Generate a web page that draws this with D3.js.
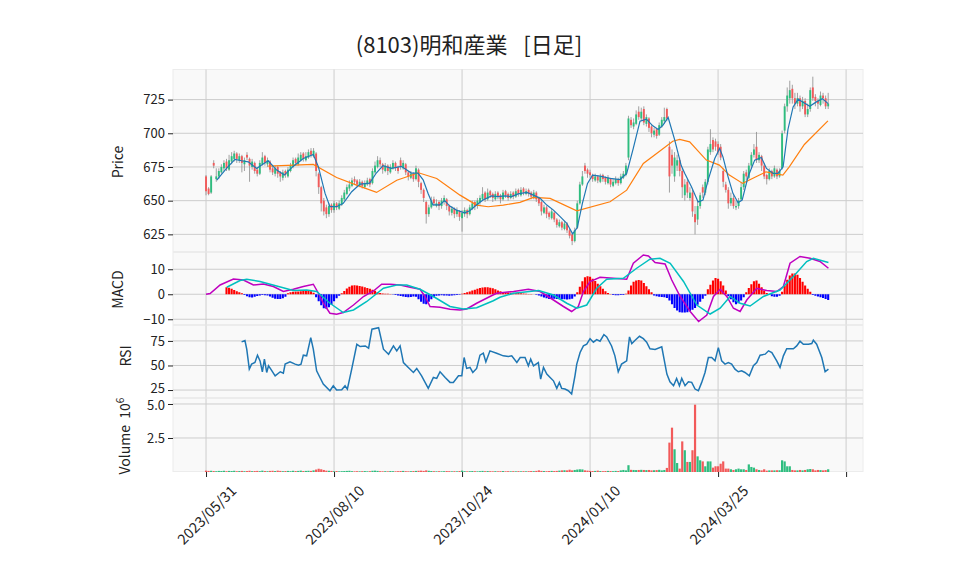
<!DOCTYPE html>
<html><head><meta charset="utf-8">
<script src="https://cdn.jsdelivr.net/npm/d3@7"></script>
<style>
body{margin:0;background:#fff;}
svg text{font-family:"Noto Sans CJK JP","DejaVu Sans",sans-serif;fill:#222;}
</style>
</head><body>
<svg id="c" width="958" height="575"></svg>
<script>
// ---------------- DATA ----------------
const title = "(8103)明和産業\u2002 [日足]";
const tickIndex = [0, 50, 100, 150, 200, 250];
const tickLabels = ["2023/05/31", "2023/08/10", "2023/10/24", "2024/01/10", "2024/03/25", ""];
const priceTicks = [625, 650, 675, 700, 725];
const macdTicks = [-10, 0, 10];
const rsiTicks = [25, 50, 75];
const volTicks = [2.5, 5.0];

const opens = [
668,659,656,678,666,668,671,674,679,673,
679,681,685,680,683,677,684,681,675,678,
673,670,677,683,677,679,674,670,675,671,
667,672,668,672,675,681,677,680,685,680,
682,687,683,685,670,660,650,645,640,647,
643,648,644,647,651,655,659,661,666,665,
661,664,660,662,666,663,671,675,680,677,
672,676,671,674,678,675,680,674,677,671,
667,670,666,673,663,658,649,640,645,651,
646,649,646,649,651,646,641,644,640,642,
637,640,643,640,644,649,646,649,651,656,
651,657,655,651,656,654,651,657,655,652,
656,653,658,654,659,655,658,656,652,656,
652,649,641,645,641,637,641,636,631,634,
629,633,628,625,620,630,648,662,676,673,
671,669,665,668,664,669,667,663,666,661,
663,666,663,667,669,682,710,705,707,716,
711,718,707,711,705,699,703,699,705,709,
718,690,684,668,676,680,672,654,664,652,
656,640,636,646,660,656,664,686,695,694,
692,690,672,662,658,648,652,645,646,651,
660,671,667,676,684,690,680,683,676,669,
666,672,668,673,668,674,702,720,726,733,
726,722,726,720,724,714,718,734,727,724,
721,728,726,720];
const highs = [
669,660,669,680,674,674,677,680,681,684,
686,687,686,685,684,682,686,682,681,679,
675,680,686,684,682,680,676,676,676,672,
673,673,675,678,682,682,685,686,686,686,
688,689,689,686,671,661,652,647,648,648,
650,649,650,654,658,662,665,667,668,666,
666,665,665,667,667,674,679,683,682,678,
678,677,677,680,679,676,682,680,678,672,
672,671,676,674,664,659,650,647,653,653,
651,650,652,654,652,647,646,645,645,643,
643,645,644,647,650,650,652,654,660,657,
659,658,656,657,657,655,658,658,656,657,
657,659,659,660,660,659,659,657,658,657,
653,650,647,646,642,644,642,637,636,635,
635,634,629,626,630,650,664,672,678,674,
673,670,670,669,670,670,668,669,667,666,
668,667,670,672,678,713,712,711,717,720,
719,720,714,712,706,704,704,708,712,719,
719,694,688,686,684,682,674,666,666,660,
658,646,650,656,662,666,690,703,697,696,
694,692,674,664,660,656,654,650,652,664,
672,673,678,686,692,701,686,684,678,670,
674,673,676,674,674,702,722,734,739,736,
730,730,728,727,726,722,734,742,729,726,
731,730,728,730];
const lows = [
654,654,655,674,664,666,670,672,672,672,
677,679,678,678,671,672,680,664,673,670,
668,669,676,676,675,671,669,668,667,664,
665,667,667,671,674,676,676,679,679,679,
681,682,682,668,655,642,639,637,638,641,
641,643,643,646,650,654,657,660,662,660,
660,659,659,661,660,662,670,674,675,670,
671,669,670,673,672,670,673,673,669,665,
666,664,665,660,655,649,633,638,644,646,
645,643,644,647,643,639,639,637,638,635,
627,638,637,639,643,643,644,647,650,649,
650,652,649,650,651,648,650,652,650,651,
651,652,653,653,654,654,653,651,651,649,
646,639,640,637,636,636,634,630,630,628,
628,626,622,617,619,629,647,661,670,667,
667,664,664,663,663,664,662,662,660,660,
662,661,662,666,668,680,704,703,706,710,
709,706,705,701,697,697,696,698,704,707,
709,656,670,664,672,668,652,650,652,650,
638,625,632,644,652,654,662,684,686,687,
684,680,660,656,644,646,644,643,644,650,
658,665,666,674,682,678,678,672,666,662,
665,666,667,666,667,673,700,716,722,722,
718,720,716,718,712,712,716,724,720,718,
720,722,718,718];
const closes = [
657,655,668,676,668,672,675,678,674,680,
683,685,681,683,678,680,682,676,679,672,
670,678,682,678,680,673,671,674,670,668,
671,669,673,676,680,678,682,684,681,683,
686,684,687,672,660,648,642,640,646,643,
648,645,648,652,656,660,662,665,664,662,
664,661,663,665,662,672,676,680,677,673,
676,672,675,678,674,672,675,678,671,668,
670,666,674,664,658,652,640,645,650,648,
648,646,650,652,646,642,644,640,643,638,
641,643,640,645,648,646,650,652,655,651,
656,654,652,655,653,651,656,654,652,655,
653,657,655,658,656,657,655,653,656,651,
648,642,645,640,638,642,636,632,634,630,
633,628,624,620,628,648,662,668,672,670,
669,666,668,665,668,666,664,667,662,664,
666,663,668,670,676,711,706,708,714,712,
716,708,712,704,700,702,698,706,710,712,
711,668,676,682,680,672,660,662,656,656,
642,634,646,654,656,664,688,692,688,690,
686,682,664,658,648,652,646,646,650,660,
670,668,676,684,688,680,684,676,668,666,
672,668,674,668,672,700,720,728,732,726,
722,726,720,724,714,718,732,726,724,722,
728,726,720,722];
// volume, millions of shares
const volumes = [
0.10,0.08,0.09,0.07,0.06,0.08,0.07,0.09,0.06,0.08,
0.07,0.09,0.06,0.07,0.08,0.06,0.07,0.09,0.06,0.07,
0.08,0.06,0.10,0.07,0.06,0.08,0.09,0.07,0.10,0.08,
0.06,0.07,0.08,0.06,0.09,0.07,0.08,0.10,0.07,0.08,
0.09,0.08,0.12,0.18,0.24,0.20,0.15,0.10,0.09,0.08,
0.06,0.07,0.05,0.06,0.07,0.08,0.09,0.06,0.05,0.06,
0.05,0.06,0.07,0.05,0.06,0.09,0.10,0.08,0.06,0.05,
0.06,0.05,0.07,0.06,0.05,0.06,0.07,0.08,0.06,0.05,
0.06,0.07,0.08,0.09,0.10,0.08,0.12,0.09,0.07,0.06,
0.05,0.06,0.05,0.06,0.07,0.06,0.05,0.06,0.05,0.07,
0.10,0.06,0.05,0.06,0.07,0.06,0.05,0.06,0.08,0.06,
0.07,0.06,0.05,0.06,0.05,0.06,0.07,0.05,0.06,0.05,
0.06,0.05,0.06,0.05,0.06,0.05,0.06,0.07,0.06,0.08,
0.12,0.08,0.07,0.06,0.07,0.08,0.07,0.08,0.10,0.12,
0.13,0.12,0.17,0.12,0.15,0.18,0.20,0.19,0.12,0.10,
0.08,0.07,0.08,0.10,0.07,0.06,0.07,0.08,0.07,0.06,
0.08,0.07,0.12,0.15,0.12,0.50,0.16,0.15,0.14,0.15,
0.16,0.15,0.14,0.15,0.12,0.13,0.14,0.16,0.12,0.15,
0.30,2.16,3.26,1.67,0.66,0.25,2.25,1.60,0.74,0.74,
1.60,4.95,1.15,0.86,0.78,0.42,0.78,0.78,0.32,0.42,
0.42,0.61,0.78,0.25,0.25,0.20,0.15,0.20,0.25,0.20,
0.20,0.15,0.56,0.37,0.32,0.20,0.15,0.12,0.20,0.10,
0.12,0.12,0.12,0.13,0.13,0.86,0.78,0.42,0.42,0.15,
0.12,0.12,0.15,0.12,0.15,0.20,0.22,0.20,0.12,0.15,
0.14,0.12,0.14,0.20];

// moving averages: [bar index, value]
const ma5 = [[4.2,665.2],[8,673.9],[11.3,680.6],[13.9,679.6],[16.5,678.8],[19.8,673.9],[21.7,676.4],[24.3,679.6],[27.6,672.7],[30.6,669],[34.1,675.6],[38,681.3],[41.9,684.3],[43.9,675.1],[46.5,655.4],[48.4,645.5],[51,645.5],[53.6,648],[56.9,656.6],[60.2,662.3],[63.9,663],[66.5,670.5],[69.1,676],[72.4,674],[76.3,675.5],[80.2,670.5],[82.8,670.5],[84.8,665.5],[86.7,655.5],[88.6,646.8],[91.3,646.8],[93.2,650],[95.2,646],[97.8,643],[101,641],[103,642.5],[105.6,646.8],[108.2,650.5],[111.5,653.5],[114.1,653],[116.7,653.5],[119.3,653],[121.9,655],[125.3,656.1],[127.9,654.1],[130.5,651.7],[133.1,646.7],[135.7,643],[138.3,638.1],[140.9,633.2],[143.2,625.4],[145,630],[147,648],[149,662.8],[151,669],[153.9,668.2],[157.8,666.5],[161.7,665.7],[164.3,670.2],[166.9,689],[169.5,709],[172,710.5],[174.5,705.5],[176.6,702.8],[178.5,706],[180.5,711.7],[183,695.5],[185.6,676],[187,670.2],[189.6,660.3],[192.2,649],[194.1,650.4],[196.1,665.2],[198.7,681.3],[200.6,688.7],[201.9,682.5],[203.9,667.7],[205.8,655.4],[207.8,648.5],[209.4,650.4],[211.7,667.7],[214.3,680.1],[216.9,682],[218.9,673.9],[221.5,670.2],[223.4,670.2],[225.4,675.1],[227.3,703],[229.3,719.6],[231.3,725.3],[233.2,723],[235.8,720],[238.4,723.3],[240.7,725.7],[243,722]];
const ma25 = [[24.3,675.6],[41.9,676.9],[51,667.2],[58.8,661.5],[66.6,656.1],[74.5,665.2],[83,670.7],[90.1,666.5],[99.2,654.1],[105.7,646.7],[110.2,645.5],[116.1,646.7],[122.6,648.7],[127.9,652.4],[134.4,651.7],[144.8,642.5],[157.8,649.2],[164.3,657.8],[170.8,677.6],[176,685],[182.3,694.1],[185,695.4],[188.9,693.6],[195.4,680.1],[200.5,676.4],[204.4,669],[209.6,662.8],[214.8,667.7],[218.7,671.4],[225.3,669],[227.8,675.1],[233.7,691.7],[242.9,709.2]];

// MACD panel
const macdLine = [[0,0],[1.6,0.3],[5.5,3.7],[10.7,6.1],[14.6,5.7],[18.5,3.7],[22.4,4.1],[26.3,3.1],[30.2,1.1],[34.1,2.0],[38,3.1],[41.9,4.0],[43.9,0.4],[45.8,-3.6],[48.4,-7.6],[51,-8.0],[53.6,-7.3],[57.6,-4.3],[61.5,-0.9],[65.4,1.3],[68.6,4.0],[71.9,4.0],[75.8,3.7],[79.7,2.8],[83.6,2.0],[85.5,-0.9],[87.5,-4.9],[91.4,-5.2],[95.3,-6.0],[99.2,-6.3],[101.8,-5.9],[105.7,-3.6],[110.9,-0.9],[113.5,0.4],[120.1,1.1],[125.9,2.0],[130.5,1.1],[135.7,-2.3],[139.6,-4.9],[142.8,-6.9],[145.4,-4.9],[147.4,1.1],[150,5.1],[153.9,6.8],[159.1,6.4],[164.3,6.0],[166.9,12.4],[170.8,15.7],[172.8,15.3],[175.4,12.7],[179.3,12.1],[181.9,5.7],[185.2,-0.9],[189.1,-6.9],[192.4,-10.9],[195.6,-8.3],[198.2,-0.9],[200.8,2.0],[203.4,-0.9],[206,-5.6],[208.6,-6.9],[211.2,-2.3],[215.1,2.4],[219,1.5],[222.9,1.1],[225.5,3.1],[228.1,12.4],[232,15.1],[235.9,14.4],[239.8,13.1],[243.1,10.4]];
const signalLine = [[8.1,2.8],[13.3,5.5],[15.9,6.0],[21.1,5.1],[27.6,3.3],[34.1,1.5],[39.3,1.7],[43.2,1.1],[48.4,-3.6],[53.6,-7.3],[57.6,-6.3],[62.8,-2.9],[69.3,2.4],[74.5,3.7],[78.4,3.7],[83.6,2.0],[88.8,-0.9],[95.3,-4.9],[100.5,-5.9],[105.7,-5.4],[112.2,-2.6],[114.8,-1.2],[120.1,0.4],[129.9,1.5],[135.7,-0.3],[140.9,-3.6],[144.8,-5.6],[148.7,-4.3],[152.6,2.4],[156.5,6.0],[163,6.4],[168.2,10.4],[173.4,14.0],[177.3,14.4],[181.3,12.4],[186.5,5.1],[191.7,-4.3],[196.9,-7.9],[200.8,-5.6],[204.7,-0.9],[208.6,-3.6],[212.5,-4.7],[217.7,-0.9],[224.2,1.7],[229.4,7.1],[234.6,13.1],[237.2,14.4],[243.1,12.7]];
const macdHist = [
null,null,null,null,null,null,null,null,2.8,2.6,
2.2,1.7,1.2,0.8,0.4,-0.3,-0.8,-1.2,-1.3,-1.0,
-0.7,-0.5,-0.3,-0.4,-0.5,-0.9,-1.4,-1.8,-1.9,-1.9,
-1.6,-1.0,0.4,0.8,1.0,1.1,1.1,1.2,1.3,1.4,
1.3,1.2,0.6,-1.2,-2.8,-4.4,-5.6,-5.8,-5.2,-4.2,
-2.8,-1.6,-0.6,0.4,1.3,2.3,3.0,3.5,3.6,3.5,
3.3,3.1,2.8,2.5,2.2,1.8,1.4,0.9,0.5,0.3,
0.2,0.2,0.1,-0.1,-0.3,-0.5,-0.7,-0.9,-1.1,-1.2,
-1.1,-0.9,-1.0,-2.0,-3.0,-3.8,-4.0,-3.0,-2.0,-1.2,
-0.6,-0.5,-0.4,-0.5,-0.5,-0.6,-0.5,-0.4,-0.3,-0.2,
0.2,0.5,0.8,1.1,1.5,1.8,2.2,2.5,2.7,2.8,
2.8,2.6,2.4,2.0,1.5,1.2,0.9,0.8,0.7,0.6,
0.6,0.5,0.5,0.4,0.3,0.2,0.1,0.1,0.0,-0.2,
-0.5,-0.9,-1.3,-1.6,-1.9,-1.9,-1.8,-1.9,-2.0,-2.0,
-2.0,-2.1,-2.0,-1.8,-0.9,0.8,3.0,5.2,6.8,7.2,
7.0,6.2,5.3,4.2,3.2,2.2,1.2,0.5,0.1,-0.3,
-0.4,-0.4,-0.3,-0.3,0.2,1.5,3.5,5.0,5.5,5.7,
5.5,4.5,3.2,2.0,0.8,-0.5,-0.8,-1.0,-1.1,-1.2,
-1.5,-2.5,-4.0,-5.5,-6.5,-7.2,-7.3,-7.3,-7.2,-6.8,
-6.2,-5.5,-4.2,-3.0,-1.8,-0.6,2.0,3.8,5.5,6.5,
6.2,5.2,3.5,1.5,-0.8,-2.0,-3.2,-4.0,-3.6,-2.5,
-1.2,0.8,2.5,4.0,5.2,5.5,4.2,2.8,1.5,0.5,
-0.3,-0.8,-1.0,-1.0,-0.6,1.0,3.5,5.8,7.5,8.3,
8.3,7.8,6.5,5.0,3.5,2.2,1.0,-0.3,-0.6,-0.9,
-1.2,-1.5,-1.9,-2.3];

// RSI: [bar index, value]
const rsi = [[13.9,74],[15.2,75.3],[15.9,66.6],[16.9,46.3],[17.8,51.4],[19.1,53],[20.1,60.5],[21.1,54.7],[22,43.6],[22.8,56.4],[23.7,42.9],[24.4,49.7],[25.3,46.3],[27,39.5],[29,43.6],[30.2,42.2],[30.9,51.4],[32.8,53.7],[34.8,51.4],[36.1,50.3],[37.1,51.4],[38,60.5],[39.3,59.8],[40.9,78.4],[41.9,66.6],[43.2,44.6],[44.5,37.8],[45.8,31.1],[48.4,24.3],[49.7,29.4],[51,25],[53,25.3],[54.3,29.4],[55.2,26],[56.9,46.3],[58.9,71.6],[60.2,69.3],[62.2,69.9],[63.5,67.6],[64.8,86.9],[67.4,88.5],[69.3,66.6],[71.3,61.5],[73.2,69.9],[74.5,64.9],[75.8,69.9],[77.1,53],[79,48],[81,42.9],[82.3,47],[84.2,39.5],[86.8,26.7],[88.8,37.8],[90.1,36.8],[91.4,43.6],[93.4,37.8],[95.3,32.8],[96.6,32.8],[98.6,39.5],[99.9,39.5],[100.8,58.1],[101.8,47],[103.1,48],[104.2,42.9],[105.7,47],[107,60.5],[108.3,62.5],[109.3,53.7],[110.9,64.9],[113.5,62.5],[116.1,59.8],[118.1,59.1],[119.4,59.8],[121.4,53],[122.7,58.1],[124.6,58.1],[125.9,49.7],[126.8,56.4],[127.9,49.7],[129.8,53],[130.7,36.1],[131.8,48],[133.1,41.2],[134.4,37.8],[135.7,34.4],[137,26.7],[138,32.8],[138.9,26.7],[140.2,26],[141.5,24.3],[142.8,21],[144.1,39.5],[144.8,51.4],[146.1,63.2],[147.4,69.9],[148.7,71.6],[150,77.3],[151.3,73.7],[152.6,76.4],[153.9,74.7],[155.4,81.5],[156.5,79.1],[158.4,69.9],[159.7,59.8],[161,43.6],[162.3,51.4],[164.3,54.7],[165.4,79.1],[166.3,72.3],[167.6,75.7],[169.3,79.7],[170.8,77.3],[172.1,73.7],[173.4,67],[175.4,66.2],[178,69],[178.9,56.4],[180,41.2],[181.2,33.4],[182.6,29.4],[183.8,36.8],[184.9,29.4],[185.8,36.8],[187.1,29.4],[188.4,33.4],[189.7,32.8],[191,26],[192.3,24.3],[193.6,32.8],[194.9,42.9],[196.2,58.1],[197.5,58.1],[198.8,54.7],[200.1,68.2],[201.4,54.7],[202.7,51.4],[204,53],[205.3,51.4],[206.6,46.3],[207.9,43.6],[209.2,44.6],[210.5,42.9],[212.2,39.5],[213.8,49.7],[215.1,53],[216.4,60.5],[218.4,61.5],[219.7,64.9],[221,63.2],[222.9,54.7],[224.2,48],[225.5,59.8],[226.8,67],[229.4,67],[230.7,69.9],[232,74.7],[233.3,71.6],[235.3,71.6],[236.6,72.3],[237.2,75.7],[238.5,71.6],[240.5,58.1],[241.8,43.6],[243.1,46.3]];

// ---------------- DRAW ----------------
const svg = d3.select("#c");
const xL = 173, xR = 863;
const x = d3.scaleLinear().domain([-12.9, 256.6]).range([xL, xR]);
const UP = "#2ebd7f", DOWN = "#f25a5a", WICK = "#8a8a8a", GRID = "#cdcdcd", BG = "#f9f9f9";
const TICKFONT = '"DejaVu Sans",sans-serif';

const panels = {
  price: {y: d3.scaleLinear().domain([611.9, 747.7]).range([252, 69]), ticks: priceTicks, fmt: d => d, label: "Price", lx: 123},
  macd:  {y: d3.scaleLinear().domain([-12.3, 16.9]).range([325, 252]), ticks: macdTicks, fmt: d => (d < 0 ? "\u2212" + Math.abs(d) : d), label: "MACD", lx: 123},
  rsi:   {y: d3.scaleLinear().domain([16.9, 91.2]).range([398, 325]), ticks: rsiTicks, fmt: d => d, label: "RSI", lx: 131},
  vol:   {y: d3.scaleLinear().domain([0, 5.44]).range([472, 398]), ticks: volTicks, fmt: d3.format(".1f"), label: null, lx: 125}
};

Object.entries(panels).forEach(([k, p]) => {
  const [b, t] = p.y.range();
  const g = svg.append("g");
  g.append("rect").attr("x", xL).attr("y", t + 0.5).attr("width", xR - xL).attr("height", b - t - 1)
    .attr("fill", BG).attr("stroke", "#ececec").attr("stroke-width", 1);
  g.selectAll(".hg").data(p.ticks).join("line")
    .attr("x1", xL).attr("x2", xR).attr("y1", d => p.y(d)).attr("y2", d => p.y(d))
    .attr("stroke", GRID).attr("stroke-width", 1);
  g.selectAll(".vg").data(tickIndex).join("line")
    .attr("x1", d => x(d)).attr("x2", d => x(d)).attr("y1", t + 0.5).attr("y2", b - 0.5)
    .attr("stroke", GRID).attr("stroke-width", 1);
  const ax = svg.append("g").attr("transform", `translate(${xL},0)`)
    .call(d3.axisLeft(p.y).tickValues(p.ticks).tickSize(5).tickPadding(3).tickFormat(p.fmt));
  ax.select(".domain").remove();
  ax.selectAll(".tick line").attr("stroke", "#222");
  ax.selectAll(".tick text").attr("font-size", 13).attr("font-family", TICKFONT).attr("fill", "#222");
  if (k === "rsi") ax.selectAll(".tick text").filter(d => d === 25).attr("dy", "0.2em");
  if (k === "vol") ax.selectAll(".tick text").filter(d => d === 5).attr("dy", "0.45em");
});

// axis titles
[["price", 162], ["macd", 289.5], ["rsi", 356]].forEach(([k, cy]) => {
  const p = panels[k];
  svg.append("text").attr("transform", `translate(${p.lx},${cy}) rotate(-90)`)
    .attr("text-anchor", "middle").attr("font-size", 14).text(p.label);
});
const vt = svg.append("text").attr("transform", `translate(130,436) rotate(-90)`)
  .attr("text-anchor", "middle").attr("font-size", 14).attr("xml:space", "preserve");
vt.append("tspan").text("Volume  10");
vt.append("tspan").attr("dy", -6).attr("font-size", 10).text("6");

// candles
const idx = d3.range(closes.length);
const pr = panels.price;
const cg = svg.append("g");
cg.selectAll("line").data(idx).join("line")
  .attr("x1", i => x(i)).attr("x2", i => x(i))
  .attr("y1", i => pr.y(highs[i])).attr("y2", i => pr.y(lows[i]))
  .attr("stroke", WICK).attr("stroke-width", 0.8);
const bw = 1.9;
cg.selectAll("rect").data(idx).join("rect")
  .attr("x", i => x(i) - bw / 2).attr("width", bw)
  .attr("y", i => pr.y(Math.max(opens[i], closes[i])))
  .attr("height", i => Math.max(0.8, Math.abs(pr.y(opens[i]) - pr.y(closes[i]))))
  .attr("fill", i => closes[i] >= opens[i] ? UP : DOWN);

const lineGen = (ys) => d3.line().x(d => x(d[0])).y(d => ys(d[1]));
svg.append("path").datum(ma25).attr("d", lineGen(pr.y)).attr("fill", "none").attr("stroke", "#ff7f0e").attr("stroke-width", 1.2);
svg.append("path").datum(ma5).attr("d", lineGen(pr.y)).attr("fill", "none").attr("stroke", "#1f77b4").attr("stroke-width", 1.2);

// MACD
const mp = panels.macd;
svg.append("g").selectAll("rect").data(idx.filter(i => macdHist[i] !== null)).join("rect")
  .attr("x", i => x(i) - 1.05).attr("width", 2.1)
  .attr("y", i => mp.y(Math.max(0, macdHist[i])))
  .attr("height", i => Math.abs(mp.y(macdHist[i]) - mp.y(0)))
  .attr("fill", i => macdHist[i] >= 0 ? "#ff0000" : "#0000ff");
svg.append("path").datum(macdLine).attr("d", lineGen(mp.y)).attr("fill", "none").attr("stroke", "#bf00bf").attr("stroke-width", 1.5);
svg.append("path").datum(signalLine).attr("d", lineGen(mp.y)).attr("fill", "none").attr("stroke", "#00bfbf").attr("stroke-width", 1.5);

// RSI
const rp = panels.rsi;
svg.append("path").datum(rsi).attr("d", lineGen(rp.y)).attr("fill", "none").attr("stroke", "#1f77b4").attr("stroke-width", 1.5);

// Volume
const vp = panels.vol;
svg.append("g").selectAll("rect").data(idx).join("rect")
  .attr("x", i => x(i) - 1.1).attr("width", 2.2)
  .attr("y", i => vp.y(volumes[i]))
  .attr("height", i => vp.y(0) - vp.y(volumes[i]))
  .attr("fill", i => closes[i] >= opens[i] ? UP : DOWN);

// x axis
const xa = svg.append("g").attr("transform", "translate(0,472)")
  .call(d3.axisBottom(x).tickValues(tickIndex).tickSize(5).tickFormat(""));
xa.select(".domain").remove();
xa.selectAll(".tick line").attr("stroke", "#222");
svg.append("g").selectAll("text").data(tickIndex.map((t, k) => [t, tickLabels[k]]).filter(d => d[1])).join("text")
  .attr("transform", d => `translate(${x(d[0])},514) rotate(-45)`)
  .attr("text-anchor", "middle").attr("dominant-baseline", "central")
  .attr("font-size", 14.5).text(d => d[1]);

// title
svg.append("text").attr("x", 469).attr("y", 53).attr("text-anchor", "middle")
  .attr("font-size", 22).attr("xml:space", "preserve").text(title);
</script>
</body></html>
